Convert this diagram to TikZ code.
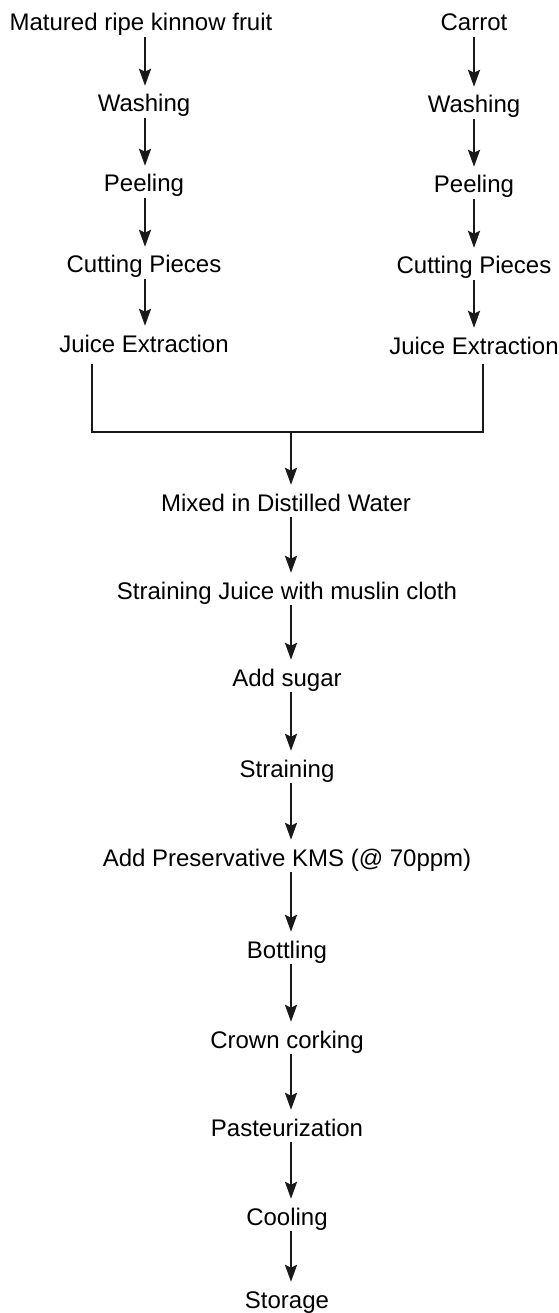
\documentclass[tikz,border=0pt]{standalone}
\usepackage{fontspec}
\setmainfont{Liberation Sans}
\usetikzlibrary{arrows.meta}
\begin{document}
\begin{tikzpicture}[x=1pt,y=1pt,
  stepnode/.style={font=\fontsize{24}{28}\selectfont, text=black, inner sep=0pt, text height=17pt, text depth=5pt, anchor=base},
  flow/.style={line width=2.6pt, draw=black!90, -{Stealth[length=17pt,width=12pt,inset=3pt]}, shorten >=9pt, shorten <=1pt},
  bracket/.style={line width=2.6pt, draw=black!90}]
\useasboundingbox (0,0) rectangle (558,-1313);
\coordinate (lx) at (145,0);
\coordinate (rx) at (474,0);
\coordinate (cx) at (291,0);
% left column
\node[stepnode] (l1) at (141,-31) {Matured ripe kinnow fruit};
\node[stepnode] (l2) at (144,-112) {Washing};
\node[stepnode] (l3) at (144,-192) {Peeling};
\node[stepnode] (l4) at (144,-273) {Cutting Pieces};
\node[stepnode] (l5) at (144,-352) {Juice Extraction};
% right column
\node[stepnode] (r1) at (474,-31) {Carrot};
\node[stepnode] (r2) at (474,-113) {Washing};
\node[stepnode] (r3) at (474,-193) {Peeling};
\node[stepnode] (r4) at (474,-274) {Cutting Pieces};
\node[stepnode] (r5) at (474,-354) {Juice Extraction};
% center column
\node[stepnode] (c1) at (286,-511) {Mixed in Distilled Water};
\node[stepnode] (c2) at (287,-599) {Straining Juice with muslin cloth};
\node[stepnode] (c3) at (287,-686) {Add sugar};
\node[stepnode] (c4) at (287,-777) {Straining};
\node[stepnode] (c5) at (287,-866) {Add Preservative KMS (@ 70ppm)};
\node[stepnode] (c6) at (287,-958) {Bottling};
\node[stepnode] (c7) at (287,-1048) {Crown corking};
\node[stepnode] (c8) at (287,-1136) {Pasteurization};
\node[stepnode] (c9) at (287,-1225) {Cooling};
\node[stepnode] (c10) at (287,-1308) {Storage};
% arrows
\foreach \a/\b in {l1/l2,l2/l3,l3/l4,l4/l5}
  \draw[flow] (\a.south -| lx) -- (\b.north -| lx);
\foreach \a/\b in {r1/r2,r2/r3,r3/r4,r4/r5}
  \draw[flow] (\a.south -| rx) -- (\b.north -| rx);
\foreach \a/\b in {c1/c2,c2/c3,c3/c4,c4/c5,c5/c6,c6/c7,c7/c8,c8/c9,c9/c10}
  \draw[flow] (\a.south -| cx) -- (\b.north -| cx);
% bracket
\coordinate (bl) at (92,-432);
\coordinate (br) at (483,-432);
\coordinate (bj) at (291,-432);
\draw[bracket] ([yshift=-7pt]l5.south -| bl) -- (bl) -- (br) -- ([yshift=-5pt]r5.south -| br);
\draw[flow, shorten <=0pt] (bj) -- (c1.north -| cx);
\end{tikzpicture}
\end{document}
